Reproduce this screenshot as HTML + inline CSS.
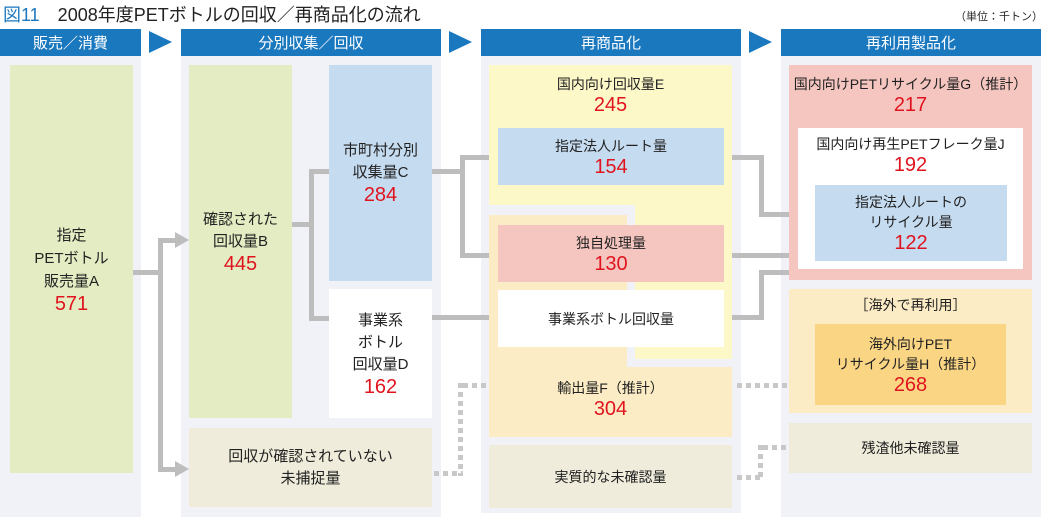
<!DOCTYPE html>
<html><head><meta charset="utf-8"><style>
*{margin:0;padding:0;box-sizing:border-box}
body{width:1041px;height:517px;background:#fff;position:relative;overflow:hidden;font-family:"Liberation Sans","Noto Sans CJK JP",sans-serif;color:#222}
.a{position:absolute}
.bg{background:#f0f2f8}
.h{background:#1a78bf;color:#fff;font-size:15px;display:flex;align-items:center;justify-content:center;height:27px;top:29px}
.b{position:absolute;display:flex;flex-direction:column;align-items:center;justify-content:center;text-align:center;font-size:14px;line-height:20px}
.n{color:#e0141e;font-size:20px;line-height:22px}
.tri{position:absolute;top:31px;width:0;height:0;border-top:11px solid transparent;border-bottom:11px solid transparent;border-left:23px solid #1a78bf}
.l{position:absolute;background:#bdbdbd}
.dh{position:absolute;height:5px;background:repeating-linear-gradient(90deg,#c8c8c8 0 5px,transparent 5px 9px)}
.dv{position:absolute;width:5px;background:repeating-linear-gradient(180deg,#c8c8c8 0 5px,transparent 5px 9px)}
</style></head><body>
<div class="a" style="left:3px;top:1px;font-size:18px;white-space:nowrap"><span style="color:#1a78bf">図11</span>　2008年度PETボトルの回収／再商品化の流れ</div>
<div class="a" style="left:955px;top:8px;font-size:11px">（単位：千トン）</div>

<div class="a bg" style="left:0;top:55px;width:141px;height:462px"></div>
<div class="a bg" style="left:181px;top:55px;width:260px;height:462px"></div>
<div class="a bg" style="left:481px;top:55px;width:260px;height:458px"></div>
<div class="a bg" style="left:781px;top:55px;width:260px;height:462px"></div>

<div class="a h" style="left:0;width:141px">販売／消費</div>
<div class="a h" style="left:181px;width:260px">分別収集／回収</div>
<div class="a h" style="left:481px;width:260px">再商品化</div>
<div class="a h" style="left:781px;width:260px">再利用製品化</div>
<div class="tri" style="left:149px"></div>
<div class="tri" style="left:449px"></div>
<div class="tri" style="left:749px"></div>

<!-- connectors -->
<div class="l" style="left:133px;top:270px;width:30px;height:5px"></div>
<div class="l" style="left:158px;top:238px;width:5px;height:234px"></div>
<div class="l" style="left:158px;top:238px;width:20px;height:5px"></div>
<div class="l" style="left:158px;top:467px;width:20px;height:5px"></div>
<div class="a" style="left:175px;top:232px;border-top:8px solid transparent;border-bottom:8px solid transparent;border-left:14px solid #bdbdbd"></div>
<div class="a" style="left:175px;top:461px;border-top:8px solid transparent;border-bottom:8px solid transparent;border-left:14px solid #bdbdbd"></div>
<div class="l" style="left:292px;top:222px;width:22px;height:5px"></div>
<div class="l" style="left:309px;top:169px;width:5px;height:152px"></div>
<div class="l" style="left:309px;top:169px;width:20px;height:5px"></div>
<div class="l" style="left:309px;top:316px;width:20px;height:5px"></div>
<div class="l" style="left:432px;top:169px;width:33px;height:5px"></div>
<div class="l" style="left:460px;top:155px;width:5px;height:103px"></div>
<div class="l" style="left:460px;top:155px;width:38px;height:5px"></div>
<div class="l" style="left:460px;top:253px;width:38px;height:5px"></div>
<div class="l" style="left:432px;top:315px;width:66px;height:5px"></div>
<div class="l" style="left:724px;top:155px;width:40px;height:5px"></div>
<div class="l" style="left:759px;top:155px;width:5px;height:62px"></div>
<div class="l" style="left:759px;top:212px;width:56px;height:5px"></div>
<div class="l" style="left:724px;top:253px;width:65px;height:5px"></div>
<div class="l" style="left:724px;top:315px;width:40px;height:5px"></div>
<div class="l" style="left:759px;top:270px;width:5px;height:50px"></div>
<div class="l" style="left:759px;top:270px;width:30px;height:5px"></div>

<!-- dotted -->
<div class="dh" style="left:434px;top:471px;width:29px"></div>
<div class="dv" style="left:458px;top:383px;height:93px"></div>
<div class="dh" style="left:463px;top:383px;width:26px"></div>
<div class="dh" style="left:737px;top:383px;width:52px"></div>
<div class="dh" style="left:737px;top:475px;width:26px"></div>
<div class="dv" style="left:758px;top:445px;height:35px"></div>
<div class="dh" style="left:763px;top:445px;width:26px"></div>

<!-- col1 -->
<div class="b" style="left:10px;top:65px;width:123px;height:408px;background:#e3ecc2;font-size:15px;line-height:23px">指定<br>PETボトル<br>販売量A<span class="n">571</span></div>
<!-- col2 -->
<div class="b" style="left:189px;top:65px;width:103px;height:353px;background:#e3ecc2;font-size:15px;line-height:22px">確認された<br>回収量B<span class="n">445</span></div>
<div class="b" style="left:329px;top:65px;width:103px;height:216px;background:#c5dbf0;font-size:15px;line-height:22px">市町村分別<br>収集量C<span class="n">284</span></div>
<div class="b" style="left:329px;top:289px;width:103px;height:129px;background:#fff;font-size:15px;line-height:22px">事業系<br>ボトル<br>回収量D<span class="n">162</span></div>
<div class="b" style="left:189px;top:428px;width:243px;height:79px;background:#efecdb;font-size:15px;line-height:22px">回収が確認されていない<br>未捕捉量</div>
<!-- col3 -->
<div class="a" style="left:489px;top:65px;width:243px;height:140px;background:#fdf8c8"></div>
<div class="a" style="left:635px;top:205px;width:97px;height:154px;background:#fdf8c8"></div>
<div class="a" style="left:489px;top:215px;width:138px;height:222px;background:#fcecc6"></div>
<div class="a" style="left:489px;top:367px;width:243px;height:70px;background:#fcecc6"></div>
<div class="b" style="left:489px;top:72px;width:243px;height:46px">国内向け回収量E<span class="n">245</span></div>
<div class="b" style="left:498px;top:128px;width:226px;height:57px;background:#c5dbf0">指定法人ルート量<span class="n">154</span></div>
<div class="b" style="left:498px;top:225px;width:226px;height:57px;background:#f5c6c0">独自処理量<span class="n">130</span></div>
<div class="b" style="left:498px;top:290px;width:226px;height:57px;background:#fff">事業系ボトル回収量</div>
<div class="b" style="left:489px;top:376px;width:243px;height:46px">輸出量F（推計）<span class="n">304</span></div>
<div class="b" style="left:489px;top:445px;width:243px;height:63px;background:#efecdb">実質的な未確認量</div>
<!-- col4 -->
<div class="a" style="left:789px;top:65px;width:243px;height:215px;background:#f5c6c0"></div>
<div class="b" style="left:789px;top:72px;width:243px;height:46px">国内向けPETリサイクル量G（推計）<span class="n">217</span></div>
<div class="a" style="left:798px;top:128px;width:225px;height:141px;background:#fff"></div>
<div class="b" style="left:798px;top:132px;width:225px;height:46px">国内向け再生PETフレーク量J<span class="n">192</span></div>
<div class="b" style="left:815px;top:185px;width:192px;height:76px;background:#c5dbf0">指定法人ルートの<br>リサイクル量<span class="n">122</span></div>
<div class="a" style="left:789px;top:289px;width:243px;height:124px;background:#fcecc6"></div>
<div class="b" style="left:789px;top:292px;width:243px;height:26px">［海外で再利用］</div>
<div class="b" style="left:815px;top:324px;width:191px;height:81px;background:#f9d584">海外向けPET<br>リサイクル量H（推計）<span class="n">268</span></div>
<div class="b" style="left:789px;top:423px;width:243px;height:50px;background:#efecdb">残渣他未確認量</div>
</body></html>
